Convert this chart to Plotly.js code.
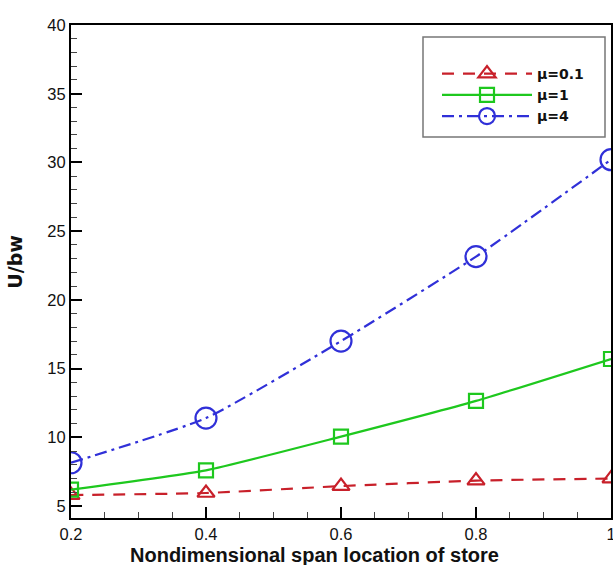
<!DOCTYPE html>
<html>
<head>
<meta charset="utf-8">
<script src="https://cdn.plot.ly/plotly-3.0.1.min.js"></script>
<style>html,body{margin:0;padding:0;background:#fff;}#chart{width:613px;height:565px;}</style>
</head>
<body>
<div id="chart"></div>
<script>
const spanLocation = [0.2, 0.4, 0.6, 0.8, 1.0];
const mu01 = [5.8, 5.95, 6.45, 6.85, 7.0];
const mu1 = [6.2, 7.6, 10.05, 12.65, 15.7];
const mu4 = [8.15, 11.4, 17.0, 23.15, 30.2];
const seriesNames = ['μ=0.1', 'μ=1', 'μ=4'];
const xTickVals = [0.2, 0.4, 0.6, 0.8, 1.0];
const xTickText = ['0.2', '0.4', '0.6', '0.8', '1'];
const yTickVals = [5, 10, 15, 20, 25, 30, 35, 40];
const xTitle = 'Nondimensional span location of store';
const yTitle = 'U/bw';

const FONT = 'Liberation Sans, Arial, sans-serif';
const WIDE = 'DejaVu Sans, Liberation Sans, sans-serif';

const traces = [
  {x: spanLocation, y: mu01, name: seriesNames[0], mode: 'lines+markers',
   line: {color: '#c8202a', width: 2.2, dash: '12px,9px', shape: 'spline', smoothing: 0.5},
   marker: {symbol: 'triangle-up-open', size: 15, color: '#c8202a', line: {width: 2.2}}},
  {x: spanLocation, y: mu1, name: seriesNames[1], mode: 'lines+markers',
   line: {color: '#1ec81e', width: 2.2, shape: 'spline', smoothing: 0.5},
   marker: {symbol: 'square-open', size: 14, color: '#1ec81e', line: {width: 2.2}}},
  {x: spanLocation, y: mu4, name: seriesNames[2], mode: 'lines+markers',
   line: {color: '#3030d8', width: 2.2, dash: '12px,5px,3px,5px', shape: 'spline', smoothing: 0.5},
   marker: {symbol: 'circle-open', size: 21, color: '#3030d8', line: {width: 2.2}}}
];

const axisCommon = {
  showgrid: false, zeroline: false, showline: true, linecolor: '#000', linewidth: 2,
  mirror: true, ticks: 'inside', tickcolor: '#000', tickwidth: 2, ticklen: 11,
  ticklabeloverflow: 'allow',
  tickfont: {family: FONT, size: 16.5, color: '#111'}
};

const layout = {
  width: 613, height: 565,
  margin: {l: 71, r: 2, t: 25, b: 47},
  paper_bgcolor: '#fff', plot_bgcolor: '#fff',
  showlegend: true,
  xaxis: Object.assign({}, axisCommon, {
    range: [0.2, 1.0], tickvals: xTickVals, ticktext: xTickText,
    ticklabelstandoff: 0,
    minor: {dtick: 0.05, ticks: 'inside', ticklen: 6, tickcolor: '#444', tickwidth: 1}
  }),
  yaxis: Object.assign({}, axisCommon, {
    range: [4.13, 40], tickvals: yTickVals,
    minor: {dtick: 1, ticks: 'inside', ticklen: 6, tickcolor: '#444', tickwidth: 1}
  }),
  annotations: [
    {text: '<b>' + xTitle + '</b>', xref: 'paper', yref: 'paper', x: 0.45, y: -0.076,
     xanchor: 'center', yanchor: 'middle', showarrow: false, borderpad: 0,
     font: {family: FONT, size: 20, color: '#111'}},
    {text: '<b>' + yTitle + '</b>', xref: 'paper', yref: 'paper', x: -0.1037, y: 0.52,
     xanchor: 'center', yanchor: 'middle', showarrow: false, textangle: -90,
     font: {family: WIDE, size: 19, color: '#111'}}
  ],
  shapes: [
    {type: 'rect', xref: 'paper', yref: 'paper',
     x0: (423 - 71) / 540, x1: (605 - 71) / 540,
     y0: (518 - 137) / 493, y1: (518 - 37) / 493,
     line: {color: '#777', width: 1.5}, fillcolor: 'rgba(0,0,0,0)', layer: 'above'}
  ],
  legend: {
    x: (437 - 71) / 540, y: 0.933, xanchor: 'left', yanchor: 'top',
    bgcolor: 'rgba(0,0,0,0)', borderwidth: 0,
    itemwidth: 90, tracegroupgap: 0,
    font: {family: WIDE, size: 14, color: '#111', weight: 'bold'}
  }
};

Plotly.newPlot('chart', traces, layout, {displayModeBar: false, staticPlot: true});
</script>
</body>
</html>
